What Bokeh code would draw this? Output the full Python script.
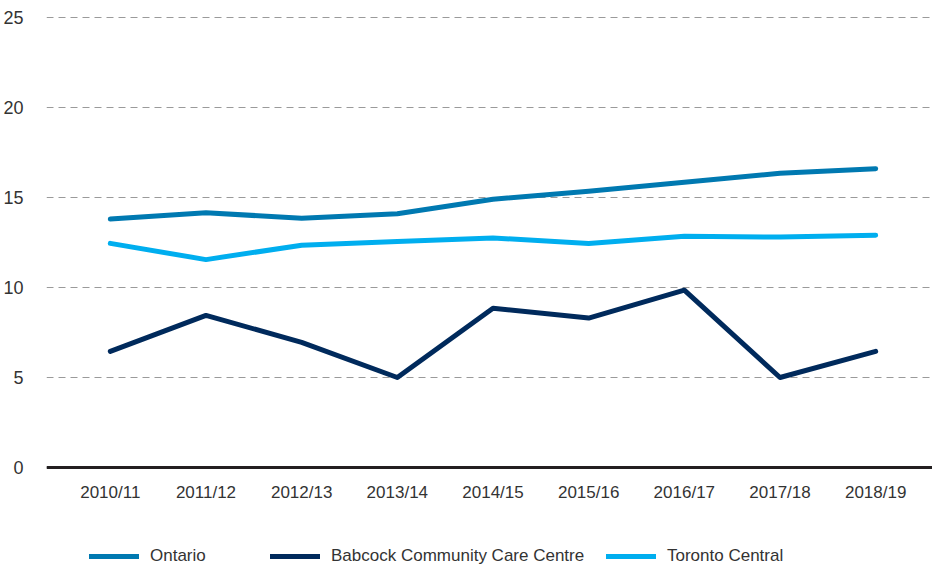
from bokeh.plotting import figure
from bokeh.models import (ColumnDataSource, Range1d, FixedTicker, Legend, LegendItem)
from bokeh.embed import file_html
from bokeh.resources import INLINE

years = ["2010/11", "2011/12", "2012/13", "2013/14", "2014/15",
         "2015/16", "2016/17", "2017/18", "2018/19"]
ontario = [13.8, 14.15, 13.85, 14.1, 14.9, 15.35, 15.85, 16.35, 16.6]
babcock = [6.45, 8.45, 6.95, 5.0, 8.85, 8.3, 9.85, 5.0, 6.45]
toronto = [12.45, 11.55, 12.35, 12.55, 12.75, 12.45, 12.85, 12.8, 12.9]
y_ticks = [0, 5, 10, 15, 20, 25]

series_names = ["Ontario", "Babcock Community Care Centre", "Toronto Central"]
series_colors = ["#0079B1", "#002A5C", "#00AEEF"]

FONT = "Liberation Sans"
xs = list(range(len(years)))

p = figure(width=932, height=566, output_backend="svg", toolbar_location=None,
           x_range=Range1d(-0.667, 8.594), y_range=Range1d(-5.5, 25.5),
           min_border_left=36, min_border_right=0, min_border_top=8,
           min_border_bottom=0)
p.outline_line_color = None
p.background_fill_color = "white"

renderers = []
for vals, color in zip([ontario, babcock, toronto], series_colors):
    src = ColumnDataSource(dict(x=xs, y=vals))
    r = p.line("x", "y", source=src, line_color=color, line_width=5,
               line_cap="round", line_join="round")
    renderers.append(r)

# x axis, pinned at y = 0
p.xaxis.fixed_location = 0
p.xaxis.ticker = FixedTicker(ticks=xs)
p.xaxis.major_label_overrides = {i: y for i, y in enumerate(years)}
p.xaxis.major_tick_line_color = None
p.xaxis.minor_tick_line_color = None
p.xaxis.axis_line_color = "#231F20"
p.xaxis.axis_line_width = 3
p.xaxis.major_label_standoff = 9
p.xaxis.major_label_text_font = FONT
p.xaxis.major_label_text_font_size = "17px"
p.xaxis.major_label_text_color = "#333333"
p.xgrid.grid_line_color = None

# y axis
p.yaxis.ticker = FixedTicker(ticks=y_ticks)
p.yaxis.axis_line_color = None
p.yaxis.major_tick_line_color = None
p.yaxis.minor_tick_line_color = None
p.yaxis.major_label_standoff = 17
p.yaxis.major_label_text_font = FONT
p.yaxis.major_label_text_font_size = "18px"
p.yaxis.major_label_text_color = "#333333"
p.ygrid.grid_line_color = "#9A9A9A"
p.ygrid.grid_line_dash = "7 5"
p.ygrid.grid_line_width = 1

# legends, one per item, placed under the axis
legend_x = [43, 224, 560]
for name, r, lx in zip(series_names, renderers, legend_x):
    lg = Legend(items=[LegendItem(label=name, renderers=[r])],
                location=(lx, 0), orientation="horizontal",
                glyph_width=50, glyph_height=20, label_standoff=11,
                padding=0, margin=0, spacing=0,
                label_text_font=FONT, label_text_font_size="17px",
                label_text_color="#333333", border_line_color=None,
                background_fill_alpha=0)
    p.add_layout(lg, "center")

open("out.html", "w").write(file_html(p, INLINE))
